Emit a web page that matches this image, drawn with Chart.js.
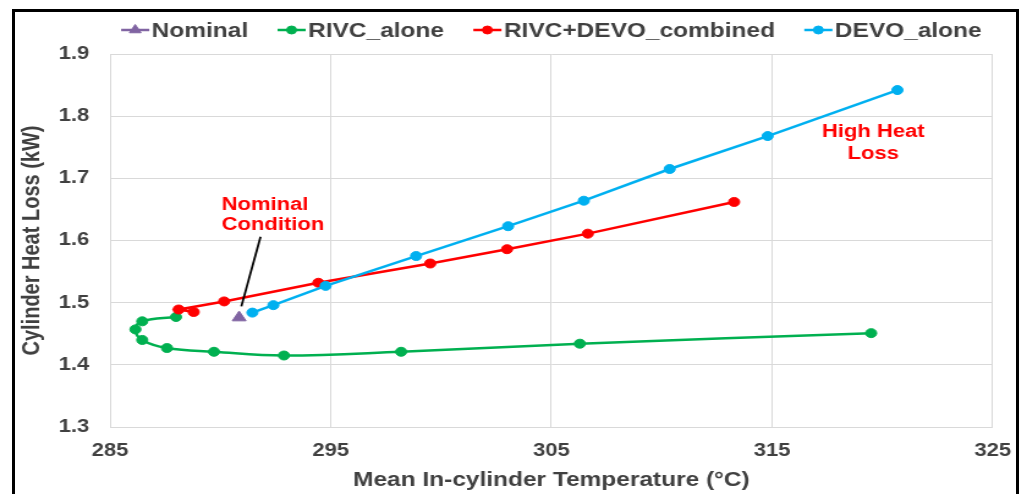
<!DOCTYPE html>
<html>
<head>
<meta charset="utf-8">
<title>Cylinder Heat Loss</title>
<script src="https://cdn.jsdelivr.net/npm/chart.js@4/dist/chart.umd.min.js"></script>
<style>
  html, body { margin: 0; padding: 0; background: #fff; overflow: hidden; }
  #wrap { position: relative; width: 1027px; height: 494px; }
  #heatChart { position: absolute; left: 0; top: 0; }
  #frame {
    position: absolute; left: 12px; top: 9px; width: 1007px; height: 500px;
    border: 3px solid #000; box-sizing: border-box; pointer-events: none;
  }
</style>
</head>
<body>
<div id="wrap">
  <!-- the source figure is a horizontally stretched export, so draw narrower and stretch -->
  <canvas id="heatChart" width="840" height="494" style="width:1027px;height:494px"></canvas>
  <div id="frame"></div>
</div>
<script>
// axis ranges
const tempRange = [285, 325, 10];
const lossRange = [1.3, 1.9, 0.1];

// series (mean in-cylinder temperature in C, heat loss in kW)
const nominalTemp = [290.85];
const nominalLoss = [1.476];

const rivcTemp = [287.99, 286.46, 286.15, 286.46, 287.58, 289.71, 292.88, 298.19, 306.29, 319.49];
const rivcLoss = [1.477, 1.470, 1.457, 1.440, 1.427, 1.421, 1.415, 1.421, 1.434, 1.451];

const comboTemp = [288.79, 288.11, 290.17, 294.44, 299.51, 302.99, 306.65, 313.28];
const comboLoss = [1.485, 1.489, 1.502, 1.532, 1.563, 1.586, 1.611, 1.662];

const devoTemp = [291.45, 292.40, 294.77, 298.87, 303.04, 306.47, 310.36, 314.80, 320.68];
const devoLoss = [1.484, 1.496, 1.527, 1.575, 1.623, 1.664, 1.715, 1.768, 1.842];

// text notes on the plot
const notes = [
  { lines: ["Nominal", "Condition"], x: 290.05, y: 1.649, gap: 19.5, align: "left" },
  { lines: ["High Heat", "Loss"], x: 319.58, y: 1.766, gap: 21.5, align: "center" },
];
const pointerFrom = [291.82, 1.606];
const pointerTo = [290.95, 1.494];

const FONT = '"Liberation Sans", Arial, sans-serif';
const TEXT = "#404040";
const GRID = "#d9d9d9";

const pts = (xs, ys) => xs.map((x, i) => ({ x: x, y: ys[i] }));

// legend drawn Excel style: short line with marker, then label
const lineLegend = {
  id: "lineLegend",
  afterDraw(chart) {
    const { ctx, chartArea } = chart;
    const sets = chart.data.datasets;
    ctx.save();
    ctx.font = "bold 20px " + FONT;
    const widths = sets.map((ds) => ctx.measureText(ds.label).width);
    const total = widths.reduce((a, b) => a + b, 0) + sets.length * 25 + (sets.length - 1) * 24;
    let x = (chartArea.left + chartArea.right - total) / 2;
    sets.forEach((ds, i) => {
      ctx.strokeStyle = ds.borderColor;
      ctx.fillStyle = ds.backgroundColor;
      ctx.lineWidth = 2.5;
      ctx.beginPath();
      ctx.moveTo(x, 30);
      ctx.lineTo(x + 23, 30);
      ctx.stroke();
      ctx.lineWidth = 1;
      Chart.helpers.drawPoint(ctx, {
        pointStyle: ds.pointStyle,
        radius: ds.pointStyle === "triangle" ? 5.5 : 4,
        borderWidth: 1,
        rotation: 0,
      }, x + 11.5, 30);
      ctx.fillStyle = TEXT;
      ctx.textAlign = "left";
      ctx.textBaseline = "alphabetic";
      ctx.fillText(ds.label, x + 25, 36.5);
      x += 25 + widths[i] + 24;
    });
    ctx.restore();
  },
};

const plotNotes = {
  id: "plotNotes",
  afterDatasetsDraw(chart) {
    const { ctx } = chart;
    const sx = chart.scales.x;
    const sy = chart.scales.y;
    ctx.save();
    ctx.strokeStyle = "#000";
    ctx.lineWidth = 1.75;
    ctx.beginPath();
    ctx.moveTo(sx.getPixelForValue(pointerFrom[0]), sy.getPixelForValue(pointerFrom[1]));
    ctx.lineTo(sx.getPixelForValue(pointerTo[0]), sy.getPixelForValue(pointerTo[1]));
    ctx.stroke();

    ctx.font = "bold 18px " + FONT;
    ctx.fillStyle = "#ff0000";
    ctx.textBaseline = "alphabetic";
    notes.forEach((n) => {
      ctx.textAlign = n.align;
      n.lines.forEach((t, i) => {
        ctx.fillText(t, sx.getPixelForValue(n.x), sy.getPixelForValue(n.y) + i * n.gap);
      });
    });
    ctx.restore();
  },
};

const ctx = document.getElementById("heatChart").getContext("2d");

new Chart(ctx, {
  type: "scatter",
  data: {
    datasets: [
      {
        label: "Nominal",
        data: pts(nominalTemp, nominalLoss),
        borderColor: "#8064a2",
        backgroundColor: "#8064a2",
        pointStyle: "triangle",
        pointRadius: 6.5,
        pointBorderWidth: 1,
        showLine: false,
        order: 0,
      },
      {
        label: "RIVC_alone",
        data: pts(rivcTemp, rivcLoss),
        borderColor: "#00b050",
        backgroundColor: "#00b050",
        borderWidth: 2.5,
        pointStyle: "circle",
        pointRadius: 4.5,
        pointBorderWidth: 1,
        showLine: true,
        tension: 0.4,
        order: 3,
      },
      {
        label: "RIVC+DEVO_combined",
        data: pts(comboTemp, comboLoss),
        borderColor: "#ff0000",
        backgroundColor: "#ff0000",
        borderWidth: 2.5,
        pointStyle: "circle",
        pointRadius: 4.5,
        pointBorderWidth: 1,
        showLine: true,
        order: 2,
      },
      {
        label: "DEVO_alone",
        data: pts(devoTemp, devoLoss),
        borderColor: "#00b0f0",
        backgroundColor: "#00b0f0",
        borderWidth: 2.5,
        pointStyle: "circle",
        pointRadius: 4.5,
        pointBorderWidth: 1,
        showLine: true,
        order: 1,
      },
    ],
  },
  options: {
    responsive: false,
    devicePixelRatio: 1,
    animation: false,
    layout: { padding: { top: 54, right: 26, bottom: 0, left: 0 } },
    plugins: {
      legend: { display: false },
      tooltip: { enabled: false },
    },
    scales: {
      x: {
        type: "linear",
        min: tempRange[0],
        max: tempRange[1],
        ticks: {
          stepSize: tempRange[2],
          color: TEXT,
          padding: 13,
          font: { family: FONT, size: 18, weight: "bold" },
        },
        grid: { color: GRID, drawTicks: false },
        border: { color: GRID },
        title: {
          display: true,
          text: "Mean In-cylinder Temperature (°C)",
          color: TEXT,
          padding: { top: 0, bottom: 2 },
          font: { family: FONT, size: 20, weight: "bold" },
        },
        afterFit: (s) => { s.height = 67; },
      },
      y: {
        min: lossRange[0],
        max: lossRange[1],
        ticks: {
          stepSize: lossRange[2],
          color: TEXT,
          padding: 17,
          font: { family: FONT, size: 18, weight: "bold" },
          callback: (v) => Number(v).toFixed(1),
        },
        grid: { color: GRID, drawTicks: false },
        border: { color: GRID },
        title: {
          display: true,
          text: "Cylinder Heat Loss (kW)",
          color: TEXT,
          padding: { top: 14, bottom: 0 },
          font: { family: FONT, size: 20, weight: "bold" },
        },
        afterFit: (s) => { s.width = 90; },
      },
    },
  },
  plugins: [lineLegend, plotNotes],
});
</script>
</body>
</html>
